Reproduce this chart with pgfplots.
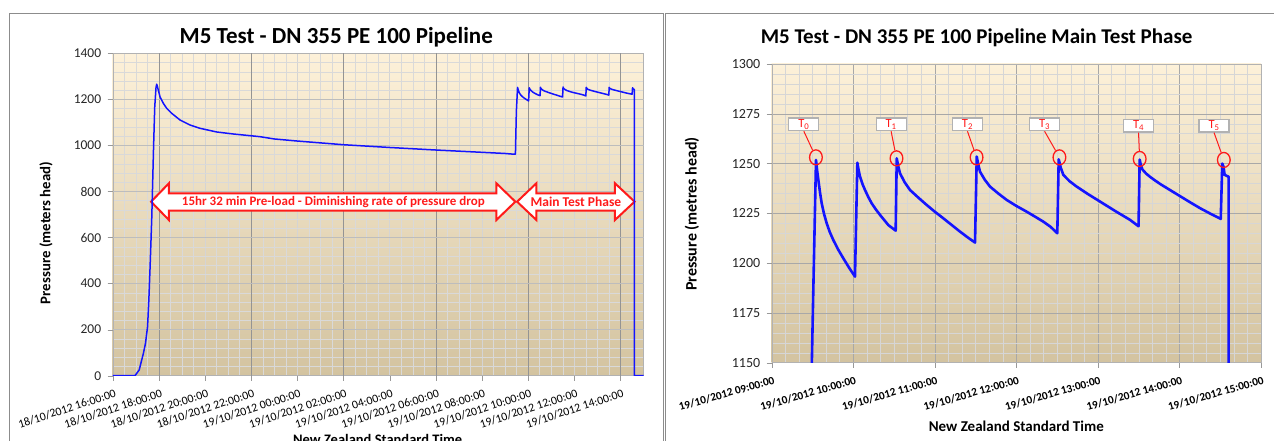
\documentclass[border=0pt]{standalone}
\usepackage{fontspec}
\setmainfont{Carlito}
\usepackage{pgfplots}
\pgfplotsset{compat=1.18}
\usepackage{pgfplotstable}
\usetikzlibrary{shapes.geometric}

\definecolor{bgtop}{HTML}{FDF1D9}
\definecolor{bgmid}{HTML}{F0E6CD}
\definecolor{bgbot}{HTML}{D3C3A0}
\definecolor{lineblue}{HTML}{1414FF}
\definecolor{annred}{HTML}{FF1A1A}
\definecolor{framegray}{HTML}{8C8C8C}

\newcommand\fsz[1]{\fontsize{#1}{#1}\selectfont}

% x = hours since 18/10/2012 00:00, p = pressure (metres head)
\pgfplotstableread{
x p
16.000 0
16.965 0
17.148 25
17.330 97
17.420 140
17.510 212
17.566 328
17.620 472
17.694 689
17.767 978
17.821 1166
17.876 1250
17.906 1266
17.940 1255
17.976 1240
18.049 1211.5
18.193 1182.9
18.340 1161.1
18.556 1139.4
18.916 1110.4
19.349 1088.6
19.783 1074.3
20.506 1058.3
21.225 1049.6
22.382 1037.9
23.000 1028
24.000 1019
25.000 1011
26.000 1003
27.000 997
28.000 991
29.000 985.5
30.000 980
31.000 975
32.000 970
33.000 965
33.360 962
33.450 962
33.492 1150
33.510 1186.5
33.543 1251.8
33.557 1246.5
33.572 1241.7
33.592 1235.5
33.613 1230.0
33.642 1224.6
33.674 1220.0
33.712 1215.6
33.755 1211.6
33.815 1206.8
33.878 1202.4
33.950 1197.6
34.021 1193.2
34.050 1250.4
34.066 1246.6
34.083 1243.4
34.112 1239.8
34.144 1236.7
34.184 1233.2
34.226 1230.0
34.276 1227.0
34.328 1224.2
34.380 1221.6
34.430 1219.1
34.520 1216.3
34.533 1252.6
34.552 1248.5
34.573 1245.1
34.630 1240.6
34.696 1236.7
34.800 1232.8
34.900 1229.2
35.000 1225.8
35.104 1222.5
35.205 1219.2
35.309 1215.8
35.400 1213.0
35.493 1210.3
35.514 1253.5
35.533 1249.5
35.554 1245.9
35.612 1241.9
35.677 1238.4
35.780 1234.9
35.882 1231.7
36.000 1228.7
36.127 1225.8
36.230 1223.3
36.331 1220.8
36.420 1218.2
36.502 1215.0
36.519 1252.1
36.545 1247.8
36.576 1244.3
36.650 1241.2
36.740 1238.4
36.880 1234.6
37.026 1230.9
37.210 1226.2
37.394 1221.7
37.498 1218.5
37.512 1252
37.525 1249.5
37.546 1247.0
37.590 1245.0
37.640 1243.3
37.700 1241.5
37.776 1239.4
37.900 1236.3
38.016 1233.4
38.136 1230.4
38.256 1227.5
38.380 1224.8
38.506 1222.2
38.525 1250
38.540 1248.4
38.554 1244.3
38.602 1243.4
38.606 0
39.000 0
}\pressure

\pgfplotsset{
  common/.style={
    scale only axis,
    anchor=south west,
    axis background/.style={shade, top color=bgtop, middle color=bgmid, bottom color=bgbot},
    grid=both,
    tick align=outside,
    tick pos=left,
    major tick length=5pt,
    minor tick length=0pt,
    tick style={draw=black!40},
    axis line style={draw=black!30},
    /pgf/number format/assume math mode=true,
    /pgf/number format/1000 sep={},
    yticklabel style={text=black!85},
  },
}
\tikzset{
  tbox/.style={draw=black!30, line width=1.2pt, fill=white, minimum width=30pt, minimum height=12.7pt, inner sep=0pt, text=annred, font=\fsz{12.5}},
  tring/.style={ellipse, draw=annred, line width=1.3pt, minimum width=12.7pt, minimum height=15pt, inner sep=0pt},
}

\begin{document}
\begin{tikzpicture}
\useasboundingbox (0pt,0pt) rectangle (1274pt,441pt);
\clip (0pt,0pt) rectangle (1274pt,441pt);
\draw[framegray, line width=1pt] (9.5pt,-5pt) -- (9.5pt,427.5pt) -- (663.5pt,427.5pt) -- (663.5pt,-5pt);
\draw[framegray, line width=1pt] (665.3pt,-5pt) -- (665.3pt,427.5pt) -- (1280pt,427.5pt);

% ---------------- left chart ----------------
\begin{axis}[common,
  at={(112.7pt,65.3pt)}, width=530.8pt, height=322.4pt,
  xmin=16, xmax=39, ymin=0, ymax=1400,
  xtick={16,18,...,38},
  xticklabels={18/10/2012 16:00:00,18/10/2012 18:00:00,18/10/2012 20:00:00,18/10/2012 22:00:00,19/10/2012 00:00:00,19/10/2012 02:00:00,19/10/2012 04:00:00,19/10/2012 06:00:00,19/10/2012 08:00:00,19/10/2012 10:00:00,19/10/2012 12:00:00,19/10/2012 14:00:00},
  minor x tick num=3,
  ytick={0,200,...,1400}, minor y tick num=4,
  major grid style={draw=black!17},
  minor grid style={draw=black!15},
  extra x ticks={18,22,...,38}, extra x tick labels={},
  extra x tick style={grid=major, major grid style={draw=black!42}},
  extra y ticks={200,400,...,1200}, extra y tick labels={},
  extra y tick style={grid=major, major grid style={draw=black!26}},
  xticklabel style={rotate=18, anchor=north east, font=\fsz{11.8}, inner sep=1pt, yshift=-7pt},
  yticklabel style={font=\fsz{13.5}, xshift=-3pt},
]
\draw[annred, line width=2pt, fill=white, line join=miter]
  (axis cs:17.664,755.6) -- (axis cs:18.435,835.5) -- (axis cs:18.435,792.1) -- (axis cs:32.625,792.1)
  -- (axis cs:32.625,835.5) -- (axis cs:33.448,755.6) -- (axis cs:32.625,676.1) -- (axis cs:32.625,716.5)
  -- (axis cs:18.435,716.5) -- (axis cs:18.435,676.1) -- cycle;
\draw[annred, line width=2pt, fill=white, line join=miter]
  (axis cs:33.522,755.6) -- (axis cs:34.358,835.5) -- (axis cs:34.358,792.1) -- (axis cs:37.763,792.1)
  -- (axis cs:37.763,835.5) -- (axis cs:38.613,755.6) -- (axis cs:37.763,676.1) -- (axis cs:37.763,716.5)
  -- (axis cs:34.358,716.5) -- (axis cs:34.358,676.1) -- cycle;
\node[font=\bfseries\fsz{13}, text=annred] at (axis cs:25.563,753) {15hr 32 min Pre-load - Diminishing rate of pressure drop};
\node[font=\bfseries\fsz{13.5}, text=annred] at (axis cs:36.07,755) {Main Test Phase};
\addplot[lineblue, line width=1.5pt, line join=round] table[x=x, y=p] {\pressure};
\end{axis}

% ---------------- right chart ----------------
\begin{axis}[common,
  at={(771.7pt,78.3pt)}, width=489.3pt, height=298.7pt,
  xmin=33, xmax=39, ymin=1150, ymax=1300,
  xtick={33,34,...,39},
  xticklabels={19/10/2012 09:00:00,19/10/2012 10:00:00,19/10/2012 11:00:00,19/10/2012 12:00:00,19/10/2012 13:00:00,19/10/2012 14:00:00,19/10/2012 15:00:00},
  minor x tick num=5,
  ytick={1150,1175,...,1300}, minor y tick num=4,
  major grid style={draw=black!34},
  minor grid style={draw=black!16},
  xticklabel style={rotate=16, anchor=north east, font=\bfseries\fsz{11.3}, inner sep=1pt, yshift=-7pt},
  yticklabel style={font=\fsz{14}, xshift=-3pt},
]
\addplot[lineblue, line width=2.6pt, line join=round] table[x=x, y=p] {\pressure};
\node[tbox] (b0) at (axis cs:33.394,1269.7) {T\textsubscript{0}};
\node[tbox] (b1) at (axis cs:34.464,1269.7) {T\textsubscript{1}};
\node[tbox] (b2) at (axis cs:35.400,1269.7) {T\textsubscript{2}};
\node[tbox] (b3) at (axis cs:36.346,1269.7) {T\textsubscript{3}};
\node[tbox] (b4) at (axis cs:37.498,1269.0) {T\textsubscript{4}};
\node[tbox] (b5) at (axis cs:38.424,1269.0) {T\textsubscript{5}};
\node[tring] (c0) at (axis cs:33.542,1253.1) {};
\node[tring] (c1) at (axis cs:34.530,1252.6) {};
\node[tring] (c2) at (axis cs:35.512,1253.1) {};
\node[tring] (c3) at (axis cs:36.528,1253.1) {};
\node[tring] (c4) at (axis cs:37.512,1252.3) {};
\node[tring] (c5) at (axis cs:38.544,1251.8) {};
\draw[annred, line width=1pt] (b0.south) -- (c0);
\draw[annred, line width=1pt] (b1.south) -- (c1);
\draw[annred, line width=1pt] (b2.south) -- (c2);
\draw[annred, line width=1pt] (b3.south) -- (c3);
\draw[annred, line width=1pt] (b4.south) -- (c4);
\draw[annred, line width=1pt] (b5.south) -- (c5);
\end{axis}

% titles and axis labels
\node[anchor=base, font=\bfseries\fsz{23}] at (336.3pt,397.7pt) {M5 Test - DN 355 PE 100 Pipeline};
\node[anchor=base, font=\bfseries\fsz{21}] at (976.6pt,397.7pt) {M5 Test - DN 355 PE 100 Pipeline Main Test Phase};
\node[rotate=90, font=\bfseries\fsz{14.8}] at (46pt,208pt) {Pressure (meters head)};
\node[anchor=base, font=\bfseries\fsz{14.5}] at (377.7pt,-3.3pt) {New Zealand Standard Time};
\node[rotate=90, font=\bfseries\fsz{16}] at (692pt,227pt) {Pressure (metres head)};
\node[anchor=base, font=\bfseries\fsz{15}] at (1016.3pt,9.3pt) {New Zealand Standard Time};
\end{tikzpicture}
\end{document}
